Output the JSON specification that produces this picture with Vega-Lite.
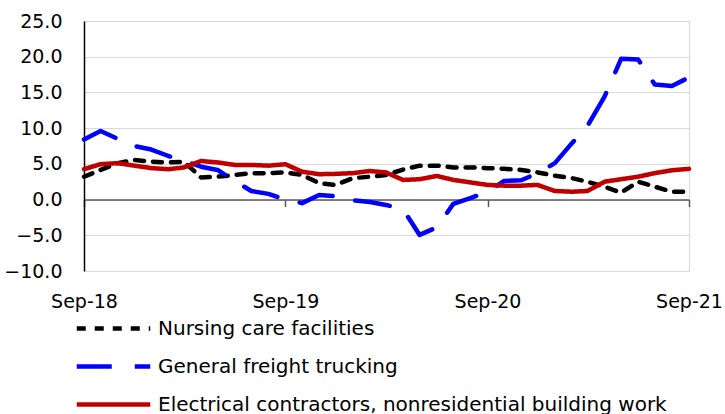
{
  "$schema": "https://vega.github.io/schema/vega-lite/v6.json",
  "width": 605,
  "height": 250,
  "autosize": {"type": "none"},
  "padding": {"left": 84, "top": 21, "right": 36, "bottom": 143},
  "background": "white",
  "config": {
    "font": "DejaVu Sans",
    "view": {"stroke": "#d9d9d9", "strokeWidth": 1},
    "axis": {"labelFont": "DejaVu Sans", "labelFontSize": 19, "labelColor": "#000000"}
  },
  "data": {
    "values": [
      {"date": "2018-09-01", "Nursing care facilities": 3.2, "General freight trucking": 8.4, "Electrical contractors, nonresidential building work": 4.25},
      {"date": "2018-10-01", "Nursing care facilities": 4.15, "General freight trucking": 9.6, "Electrical contractors, nonresidential building work": 4.95},
      {"date": "2018-11-01", "Nursing care facilities": 5.1, "General freight trucking": 8.5, "Electrical contractors, nonresidential building work": 5.1},
      {"date": "2018-12-01", "Nursing care facilities": 5.55, "General freight trucking": 7.5, "Electrical contractors, nonresidential building work": 4.75},
      {"date": "2019-01-01", "Nursing care facilities": 5.3, "General freight trucking": 7.0, "Electrical contractors, nonresidential building work": 4.4},
      {"date": "2019-02-01", "Nursing care facilities": 5.2, "General freight trucking": 6.1, "Electrical contractors, nonresidential building work": 4.25},
      {"date": "2019-03-01", "Nursing care facilities": 5.3, "General freight trucking": 5.4, "Electrical contractors, nonresidential building work": 4.5},
      {"date": "2019-04-01", "Nursing care facilities": 3.1, "General freight trucking": 4.6, "Electrical contractors, nonresidential building work": 5.4},
      {"date": "2019-05-01", "Nursing care facilities": 3.2, "General freight trucking": 4.15, "Electrical contractors, nonresidential building work": 5.2},
      {"date": "2019-06-01", "Nursing care facilities": 3.45, "General freight trucking": 2.6, "Electrical contractors, nonresidential building work": 4.85},
      {"date": "2019-07-01", "Nursing care facilities": 3.7, "General freight trucking": 1.2, "Electrical contractors, nonresidential building work": 4.85},
      {"date": "2019-08-01", "Nursing care facilities": 3.7, "General freight trucking": 0.8, "Electrical contractors, nonresidential building work": 4.75},
      {"date": "2019-09-01", "Nursing care facilities": 3.8, "General freight trucking": 0.0, "Electrical contractors, nonresidential building work": 4.95},
      {"date": "2019-10-01", "Nursing care facilities": 3.45, "General freight trucking": -0.5, "Electrical contractors, nonresidential building work": 3.9},
      {"date": "2019-11-01", "Nursing care facilities": 2.3, "General freight trucking": 0.65, "Electrical contractors, nonresidential building work": 3.55},
      {"date": "2019-12-01", "Nursing care facilities": 2.05, "General freight trucking": 0.45, "Electrical contractors, nonresidential building work": 3.6},
      {"date": "2020-01-01", "Nursing care facilities": 3.0, "General freight trucking": -0.1, "Electrical contractors, nonresidential building work": 3.7},
      {"date": "2020-02-01", "Nursing care facilities": 3.2, "General freight trucking": -0.35, "Electrical contractors, nonresidential building work": 4.0},
      {"date": "2020-03-01", "Nursing care facilities": 3.45, "General freight trucking": -0.75, "Electrical contractors, nonresidential building work": 3.8},
      {"date": "2020-04-01", "Nursing care facilities": 4.2, "General freight trucking": -1.36, "Electrical contractors, nonresidential building work": 2.75},
      {"date": "2020-05-01", "Nursing care facilities": 4.75, "General freight trucking": -4.95, "Electrical contractors, nonresidential building work": 2.85},
      {"date": "2020-06-01", "Nursing care facilities": 4.75, "General freight trucking": -3.9, "Electrical contractors, nonresidential building work": 3.3},
      {"date": "2020-07-01", "Nursing care facilities": 4.5, "General freight trucking": -0.6, "Electrical contractors, nonresidential building work": 2.75},
      {"date": "2020-08-01", "Nursing care facilities": 4.5, "General freight trucking": 0.2, "Electrical contractors, nonresidential building work": 2.4},
      {"date": "2020-09-01", "Nursing care facilities": 4.4, "General freight trucking": 1.1, "Electrical contractors, nonresidential building work": 2.05},
      {"date": "2020-10-01", "Nursing care facilities": 4.3, "General freight trucking": 2.6, "Electrical contractors, nonresidential building work": 1.95},
      {"date": "2020-11-01", "Nursing care facilities": 4.15, "General freight trucking": 2.7, "Electrical contractors, nonresidential building work": 1.95},
      {"date": "2020-12-01", "Nursing care facilities": 3.8, "General freight trucking": 3.7, "Electrical contractors, nonresidential building work": 2.05},
      {"date": "2021-01-01", "Nursing care facilities": 3.35, "General freight trucking": 5.1, "Electrical contractors, nonresidential building work": 1.2},
      {"date": "2021-02-01", "Nursing care facilities": 3.0, "General freight trucking": 7.9, "Electrical contractors, nonresidential building work": 1.1},
      {"date": "2021-03-01", "Nursing care facilities": 2.5, "General freight trucking": 10.3, "Electrical contractors, nonresidential building work": 1.2},
      {"date": "2021-04-01", "Nursing care facilities": 1.8, "General freight trucking": 14.4, "Electrical contractors, nonresidential building work": 2.5},
      {"date": "2021-05-01", "Nursing care facilities": 0.97, "General freight trucking": 19.7, "Electrical contractors, nonresidential building work": 2.85},
      {"date": "2021-06-01", "Nursing care facilities": 2.5, "General freight trucking": 19.6, "Electrical contractors, nonresidential building work": 3.2},
      {"date": "2021-07-01", "Nursing care facilities": 1.8, "General freight trucking": 16.1, "Electrical contractors, nonresidential building work": 3.7},
      {"date": "2021-08-01", "Nursing care facilities": 1.1, "General freight trucking": 15.9, "Electrical contractors, nonresidential building work": 4.1},
      {"date": "2021-09-01", "Nursing care facilities": 1.1, "General freight trucking": 17.1, "Electrical contractors, nonresidential building work": 4.3}
    ]
  },
  "transform": [
    {"fold": ["Nursing care facilities", "General freight trucking", "Electrical contractors, nonresidential building work"], "as": ["series", "value"]}
  ],
  "mark": {"type": "line", "strokeWidth": 4.5, "strokeCap": "round", "strokeJoin": "round"},
  "encoding": {
    "x": {
      "field": "date",
      "type": "temporal",
      "scale": {"type": "utc", "domain": [{"year": 2018, "month": 9, "date": 1, "utc": true}, {"year": 2021, "month": 9, "date": 1, "utc": true}]},
      "axis": {
        "title": null,
        "orient": "bottom",
        "offset": -71.43,
        "values": [
          {"year": 2018, "month": 9, "date": 1, "utc": true},
          {"year": 2019, "month": 9, "date": 1, "utc": true},
          {"year": 2020, "month": 9, "date": 1, "utc": true},
          {"year": 2021, "month": 9, "date": 1, "utc": true}
        ],
        "labelExpr": "utcFormat(datum.value, '%b-%y')",
        "grid": false,
        "domainColor": "#595959",
        "domainWidth": 1.5,
        "ticks": true,
        "tickColor": "#595959",
        "tickWidth": 1.5,
        "tickSize": 7,
        "labelPadding": 86,
        "labelFlush": false,
        "labelOverlap": false,
        "labelBound": false
      }
    },
    "y": {
      "field": "value",
      "type": "quantitative",
      "scale": {"domain": [-10, 25], "nice": false, "zero": false},
      "axis": {
        "title": null,
        "values": [-10, -5, 0, 5, 10, 15, 20, 25],
        "format": ".1f",
        "grid": true,
        "gridColor": "#d9d9d9",
        "gridWidth": 1,
        "domainColor": "#000000",
        "domainWidth": 1.5,
        "ticks": false,
        "labelPadding": 22
      }
    },
    "color": {
      "field": "series",
      "type": "nominal",
      "scale": {
        "domain": ["Nursing care facilities", "General freight trucking", "Electrical contractors, nonresidential building work"],
        "range": ["#000000", "#0000FF", "#C00000"]
      },
      "legend": {
        "title": null,
        "orient": "none",
        "legendX": 15,
        "legendY": 293,
        "direction": "vertical",
        "symbolType": "M-3,0H3",
        "symbolSize": 600,
        "symbolStrokeWidth": 4.5,
        "labelFont": "DejaVu Sans",
        "labelFontSize": 20,
        "labelColor": "#000000",
        "labelOffset": 30,
        "labelLimit": 700,
        "rowPadding": 13
      }
    },
    "strokeDash": {
      "field": "series",
      "type": "nominal",
      "scale": {
        "domain": ["Nursing care facilities", "General freight trucking", "Electrical contractors, nonresidential building work"],
        "range": [[9, 9], [35, 23], [1, 0]]
      },
      "legend": {
        "title": null,
        "orient": "none",
        "legendX": 15,
        "legendY": 293,
        "direction": "vertical",
        "symbolType": "M-3,0H3",
        "symbolSize": 600,
        "symbolStrokeWidth": 4.5,
        "labelFont": "DejaVu Sans",
        "labelFontSize": 20,
        "labelColor": "#000000",
        "labelOffset": 30,
        "labelLimit": 700,
        "rowPadding": 13
      }
    }
  }
}
